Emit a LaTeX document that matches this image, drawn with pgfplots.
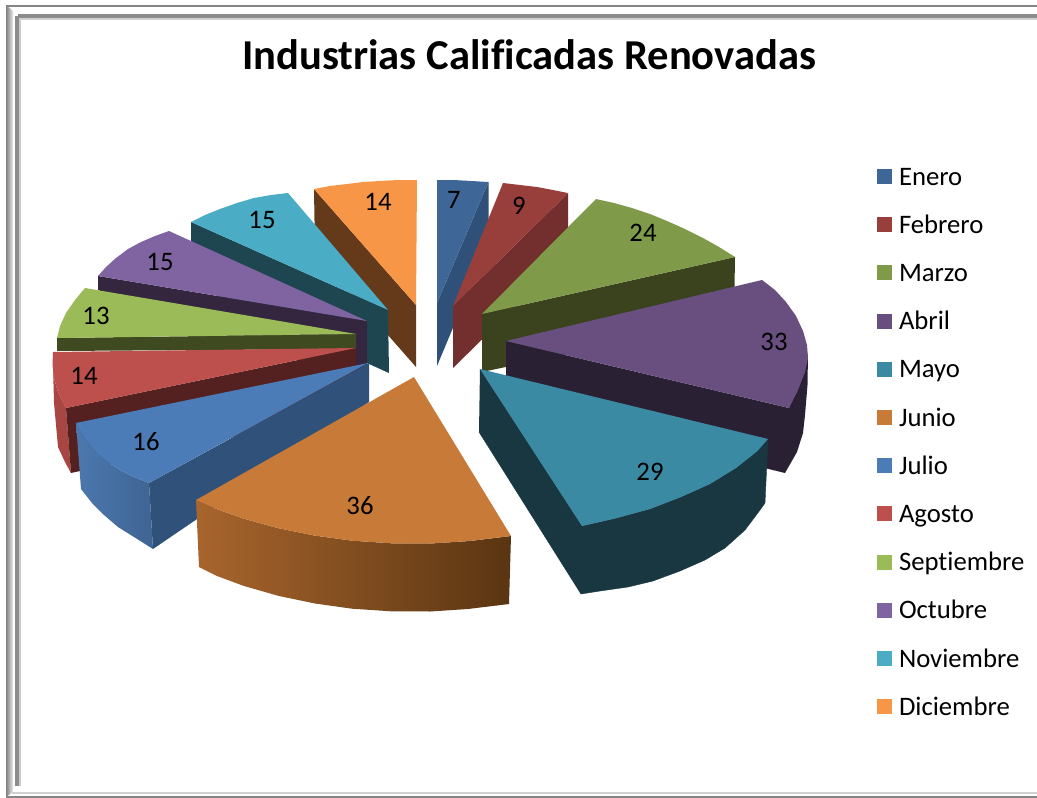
\documentclass[border=0pt]{standalone}
\usepackage{fontspec}
\setmainfont[Ligatures=NoCommon]{Carlito}
\usepackage{pgfplots}
\pgfplotsset{compat=1.18}
\definecolor{eneT}{HTML}{3E6797}\definecolor{eneS}{HTML}{2F5079}
\definecolor{febT}{HTML}{983F3C}\definecolor{febS}{HTML}{722F2D}
\definecolor{marT}{HTML}{7F9A48}\definecolor{marS}{HTML}{3A431E}
\definecolor{abrT}{HTML}{694F80}\definecolor{abrS}{HTML}{2A2033}
\definecolor{mayT}{HTML}{3B8AA3}\definecolor{mayS}{HTML}{183740}
\definecolor{junT}{HTML}{C87A38}\definecolor{junL}{HTML}{A8652D}\definecolor{junR}{HTML}{5A3512}
\definecolor{julT}{HTML}{4C7CB7}\definecolor{julS}{HTML}{30527A}\definecolor{julL}{HTML}{4C78AE}\definecolor{julR}{HTML}{3E6493}
\definecolor{agoT}{HTML}{BD4F4C}\definecolor{agoS}{HTML}{552020}\definecolor{agoO}{HTML}{A84644}
\definecolor{sepT}{HTML}{9BBB59}\definecolor{sepS}{HTML}{404A20}
\definecolor{octT}{HTML}{8064A2}\definecolor{octS}{HTML}{33263E}
\definecolor{novT}{HTML}{4BACC6}\definecolor{novS}{HTML}{1E4651}
\definecolor{dicT}{HTML}{F79646}\definecolor{dicS}{HTML}{653A1A}
\begin{document}
\begin{tikzpicture}
\begin{axis}[
  width=1037pt,height=798pt,scale only axis,
  xmin=0,xmax=1037,ymin=0,ymax=798,y dir=reverse,
  hide axis,clip=true,
  every axis plot/.append style={forget plot,draw=none,mark=none},
  legend image code/.code={\fill[#1] (0pt,1pt) rectangle (15pt,16pt);\path (22pt,0pt);},
  legend cell align=left,
  legend style={at={(axis cs:877,167)},anchor=north west,draw=none,fill=none,
    inner sep=0pt,outer sep=0pt,row sep=0pt,
    nodes={inner sep=0pt,outer sep=0pt,text height=18pt,text depth=30.2pt,anchor=base west},
    font=\fontsize{26.7}{30}\selectfont},
]
% page background and frame
\addplot[fill=white] coordinates {(0,0)(1037,0)(1037,798)(0,798)};
\addplot[draw=black!48,line width=2pt,fill=none] coordinates {(6,6)(1037,6)};
\addplot[draw=black!45,line width=4pt,fill=none] coordinates {(18,16)(1037,16)};
\addplot[draw=black!18,line width=1.5pt,fill=none] coordinates {(18,19)(1037,19)};
\addplot[left color=black!50,right color=black!8] coordinates {(6,5)(13,11)(13,792)(6,797)};
\addplot[draw=black!45,line width=4pt,fill=none] coordinates {(17,16)(17,786)};
\addplot[draw=black!20,line width=1.5pt,fill=none] coordinates {(20,18)(20,786)};
\addplot[draw=black!18,line width=2pt,fill=none] coordinates {(12,793)(1037,793)};
\addplot[draw=black!48,line width=3pt,fill=none] coordinates {(6,797)(1037,797)};

% Enero
\addplot[fill=eneS] coordinates {(488.5,182)(437,303)(437,366)(488.5,243)};
\addplot[fill=eneT] coordinates {(437,180)(454,180)(471,181)(488.5,182)(437,303)};
% Febrero
\addplot[fill=febS] coordinates {(568,193)(453,306)(453,368)(568,255)};
\addplot[fill=febT] coordinates {(503,183)(520,185)(537,187)(553,190)(568,193)(453,306)};
% Marzo
\addplot[fill=marS] coordinates {(735,257)(482,314)(482,372)(734,319)};
\addplot[fill=marT] coordinates {(596,199)(614,203)(632,208)(650,214)(667,221)(685,229)(703,238)(719,247)(735,257)(482,314)};
% Abril
\addplot[fill=abrS] coordinates {(506,341)(789,408)(808,353)(807.5,385)(805,415)(803,433)(797,452)(785,473)(506,405)};
\addplot[fill=abrT] coordinates {(506,341)(762,280)(775,290)(786,302)(796,316)(803,331)(807,345)(808,358)(805,372)(798,390)(789,408)};
% Mayo
\addplot[fill=mayS,draw=mayS,line width=0.4pt] coordinates {(480,369)(582,526)(615,518.5)(650,509)(681,497)(710,484)(736,468)(757,451.5)(768,439)(765,503)(760,510)(745,530)(725,548)(705,560)(680,571)(653,581)(628,587)(600,591)(581,594)(479,432)};
\addplot[fill=mayT] coordinates {(480,369)(768,439)(757,451.5)(736,468)(710,484)(681,497)(650,509)(615,518.5)(582,526)};
% Diciembre
\addplot[fill=dicS] coordinates {(314,189)(416,305)(416,367)(315,252)};
\addplot[fill=dicT] coordinates {(417,180)(416,305)(314,189)(330,186)(347,184)(363,182)(380,181)(398,180)};
% Noviembre
\addplot[fill=novS] coordinates {(191,222)(388,310)(389,373)(191,284)};
\addplot[fill=novT] coordinates {(388,310)(191,222)(205,215)(220,209)(237,203)(254,198)(271,195)(288,193)};
% Octubre
\addplot[fill=octS] coordinates {(98,276)(367,321)(367,385)(98,290)};
\addplot[fill=octT] coordinates {(367,321)(98,276)(106,267)(116,258)(128,249)(141,242)(155,236)(169,231)};
% Septiembre
\addplot[fill=sepS] coordinates {(356,334)(57,338)(57,351)(356,349)};
\addplot[fill=sepT] coordinates {(356,334)(57,338)(60,326)(66,313)(75,300)(85,288)};
% Agosto
\addplot[fill=agoO] coordinates {(53,365)(54,378)(58,392)(66,408)(71,473)(65,462)(58,447)(54,403)};
\addplot[fill=agoS] coordinates {(356,348)(66,408)(71,473)(357,410)};
\addplot[fill=agoT] coordinates {(53,352)(356,348)(66,408)(58,392)(54,378)(52.5,365)};
% Julio
\addplot[fill=julS] coordinates {(369,363)(149,483)(153,549)(369,402)};
\addplot[left color=julL,right color=julR] coordinates {(76,423)(83,436)(93,449)(106,461)(120,470)(134,477)(149,483)(153,549)(134,537)(118,527)(104,515)(92,503)(81,489)};
\addplot[fill=julT] coordinates {(368,363)(149,483)(134,477)(120,470)(106,461)(93,449)(83,436)(76,423)};
% Junio
\addplot[left color=junL,right color=junR] coordinates {(196,500)(215,508.4)(242.8,518.4)(277.5,528)(314.2,535.5)(352.3,540.7)(391.5,543.3)(431,543.5)(470,541)(511,536)(509,604)(468,609)(430,611.5)(391,611.3)(352,608.7)(315,603.5)(279,596)(244,586)(217,576)(199,567)};
\addplot[fill=junT] coordinates {(414,377)(511,536)(470,541)(431,543.5)(391.5,543.3)(352.3,540.7)(314.2,535.5)(277.5,528)(242.8,518.4)(215,508.4)(196,500)};

\addlegendimage{fill=eneT}\addlegendentry{Enero}
\addlegendimage{fill=febT}\addlegendentry{Febrero}
\addlegendimage{fill=marT}\addlegendentry{Marzo}
\addlegendimage{fill=abrT}\addlegendentry{Abril}
\addlegendimage{fill=mayT}\addlegendentry{Mayo}
\addlegendimage{fill=junT}\addlegendentry{Junio}
\addlegendimage{fill=julT}\addlegendentry{Julio}
\addlegendimage{fill=agoT}\addlegendentry{Agosto}
\addlegendimage{fill=sepT}\addlegendentry{Septiembre}
\addlegendimage{fill=octT}\addlegendentry{Octubre}
\addlegendimage{fill=novT}\addlegendentry{Noviembre}
\addlegendimage{fill=dicT}\addlegendentry{Diciembre}

\node[font=\fontsize{42.6}{48}\selectfont\bfseries] at (axis cs:529,55) {Industrias Calificadas Renovadas};
\begin{scope}[every node/.style={font=\fontsize{26.7}{30}\selectfont,inner sep=0pt}]
\node at (axis cs:454,200) {7};
\node at (axis cs:519,206) {9};
\node at (axis cs:643,233) {24};
\node at (axis cs:774,342) {33};
\node at (axis cs:650,472) {29};
\node at (axis cs:360,506) {36};
\node at (axis cs:146,442) {16};
\node at (axis cs:84,376) {14};
\node at (axis cs:96,316) {13};
\node at (axis cs:160,262) {15};
\node at (axis cs:262,220) {15};
\node at (axis cs:378,202) {14};
\end{scope}
\end{axis}
\end{tikzpicture}
\end{document}
